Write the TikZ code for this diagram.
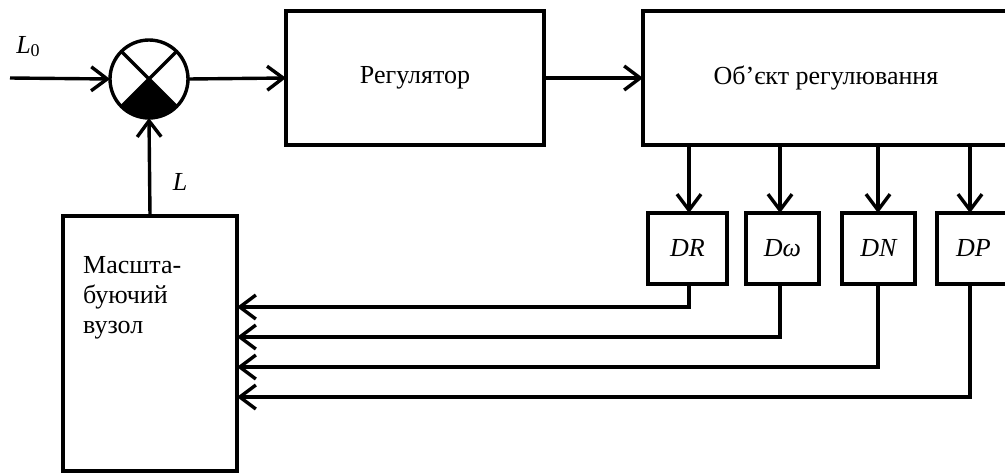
\documentclass[tikz,border=0pt]{standalone}
\usepackage{fontspec}
\setmainfont{Liberation Serif}
\usetikzlibrary{arrows.meta}
\begin{document}
\begin{tikzpicture}[x=1pt,y=-1pt,
  lw/.style={line width=3.4pt},
  txt/.style={font=\fontsize{26}{30}\selectfont},
  blk/.style={draw, lw, inner sep=0pt, outer sep=0pt, anchor=north west, txt},
  sens/.style={blk, minimum width=73pt, minimum height=71pt, font=\fontsize{26}{30}\selectfont\itshape},
  arr/.style={lw, -{Straight Barb[length=16pt,width=24pt,line width=3.4pt]}},
  lbl/.style={inner sep=0pt, font=\fontsize{26}{30}\selectfont\itshape}]
\useasboundingbox (0,0) rectangle (1005,472);
% summing junction
\node[draw, lw, circle, minimum size=78pt, inner sep=0pt, outer sep=0pt] (sum) at (149,79) {};
\fill (sum.center) -- (sum.-45) arc[start angle=-45, end angle=-135, radius=39pt] -- cycle;
\draw[lw] (sum.45) -- (sum.-135) (sum.135) -- (sum.-45);
% blocks
\node[blk, minimum width=258pt, minimum height=134pt] (reg) at (286,11) {Регулятор};
\node[blk, minimum width=366pt, minimum height=134pt] (obj) at (643,11) {};
\node[txt] (objt) at (826,78) {Об’єкт регулювання};
\node[blk, minimum width=174pt, minimum height=255pt] (scl) at (63,216) {};
\node[anchor=base west, inner sep=0pt, align=left, txt] (sclt) at (83,333)
  {Масшта-\\буючий\\вузол};
% sensors
\node[sens, minimum width=79pt] (DR) at (648,213) {DR};
\node[sens] (Dw) at (746,213) {Dω};
\node[sens] (DN) at (842,213) {DN};
\node[sens] (DP) at (937,213) {DP};
% input
\coordinate (in0) at (10,78);
\node[lbl] (L0) at (28,47) {L\raisebox{-0.25ex}{\upshape\fontsize{18}{20}\selectfont 0}};
\node[lbl] (L) at (180,182) {L};
\draw[arr] (in0) -- (sum.west);
\draw[arr] (sum.east) -- (reg.west);
\draw[arr] (reg.east) -- (obj.west |- reg.east);
\draw[arr] (scl.north) -- (sum.south);
\foreach \s/\x in {DR/689,Dw/780,DN/878,DP/970}
  \draw[arr] (\x,145) -- (\s.north -| \x,0);
% feedback
\coordinate (f1) at (237,307);
\coordinate (f2) at (237,337);
\coordinate (f3) at (237,367);
\coordinate (f4) at (237,397);
\draw[arr] (DR.south -| 689,0) |- (f1);
\draw[arr] (Dw.south -| 780,0) |- (f2);
\draw[arr] (DN.south -| 878,0) |- (f3);
\draw[arr] (DP.south -| 970,0) |- (f4);
\end{tikzpicture}
\end{document}
